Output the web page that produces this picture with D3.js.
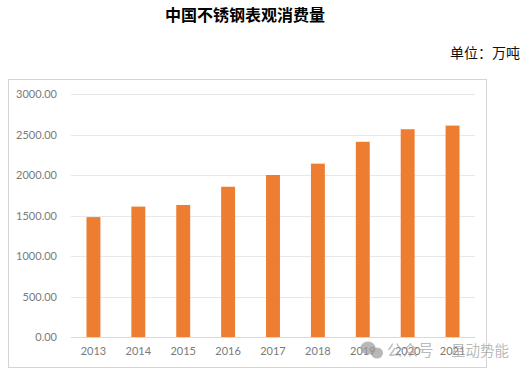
<!DOCTYPE html>
<html>
<head>
<meta charset="utf-8">
<script src="https://cdn.jsdelivr.net/npm/d3@7"></script>
<style>
    html, body { margin: 0; padding: 0; background: #fff; }
    svg { display: block; }
</style>
</head>
<body>
<svg id="plot"></svg>
<script>
let years = ["2013", "2014", "2015", "2016", "2017", "2018", "2019", "2020", "2021"];
let consumption = [1480, 1610, 1630, 1855, 2000, 2140, 2410, 2565, 2610];
let yTicks = [0, 500, 1000, 1500, 2000, 2500, 3000];

let width = 526;
let height = 372;
let svg = d3.select("#plot")
    .attr("width", width)
    .attr("height", height);

let cjk = "'Noto Sans CJK SC', sans-serif";
let sans = "Lato, 'Open Sans', sans-serif";

svg.append("text")
    .attr("x", 245)
    .attr("y", 21)
    .attr("text-anchor", "middle")
    .attr("font-family", cjk)
    .attr("font-size", 16)
    .attr("font-weight", 700)
    .attr("fill", "#000")
    .text("中国不锈钢表观消费量");

svg.append("text")
    .attr("x", 520)
    .attr("y", 58)
    .attr("text-anchor", "end")
    .attr("font-family", cjk)
    .attr("font-size", 14)
    .attr("fill", "#111")
    .text("单位：万吨");

// chart frame
svg.append("rect")
    .attr("x", 8.5)
    .attr("y", 79.5)
    .attr("width", 478)
    .attr("height", 288)
    .attr("fill", "#fff")
    .attr("stroke", "#d4d4d4");

let x = d3.scaleBand().domain(years).range([71, 475]).paddingInner(0.69).paddingOuter(0.345);
let y = d3.scaleLinear().domain([0, 3000]).range([337, 94]);

let yAxis = d3.axisLeft(y).tickValues(yTicks).tickFormat(d3.format(".2f")).tickSize(0).tickPadding(14);
let gy = svg.append("g").attr("transform", "translate(71,0)").call(yAxis);
gy.select(".domain").remove();
gy.selectAll("text").attr("font-family", sans).attr("font-size", 11).attr("fill", "#7a7a7a");

svg.selectAll(".grid")
    .data(yTicks)
    .enter()
    .append("line")
    .attr("class", "grid")
    .attr("x1", 71)
    .attr("x2", 475)
    .attr("y1", d => Math.round(y(d)) + 0.5)
    .attr("y2", d => Math.round(y(d)) + 0.5)
    .attr("stroke", d => d === 0 ? "#d9d9d9" : "#e8e8e8");

svg.selectAll(".bar")
    .data(consumption)
    .enter()
    .append("rect")
    .attr("class", "bar")
    .attr("x", (d, i) => x(years[i]))
    .attr("y", d => y(d))
    .attr("width", x.bandwidth())
    .attr("height", d => y(0) - y(d))
    .attr("fill", "#ed7d31");

let xAxis = d3.axisBottom(x).tickSize(0).tickPadding(10);
let gx = svg.append("g").attr("transform", "translate(0,337)").call(xAxis);
gx.select(".domain").remove();
gx.selectAll("text").attr("font-family", sans).attr("font-size", 11).attr("fill", "#7a7a7a");

// watermark, see-through so the year labels still show under it
let mark = svg.append("g").attr("fill", "#9a9a9a").attr("fill-opacity", 0.7);
mark.append("ellipse").attr("cx", 368).attr("cy", 348).attr("rx", 7.5).attr("ry", 6.5);
mark.append("ellipse").attr("cx", 377).attr("cy", 353).attr("rx", 6).attr("ry", 5.5);
mark.append("text")
    .attr("x", 387)
    .attr("y", 356)
    .attr("font-family", cjk)
    .attr("font-size", 15.5)
    .text("公众号");
mark.append("text")
    .attr("x", 451)
    .attr("y", 356)
    .attr("font-family", cjk)
    .attr("font-size", 14.5)
    .text("星动势能");
</script>
</body>
</html>
